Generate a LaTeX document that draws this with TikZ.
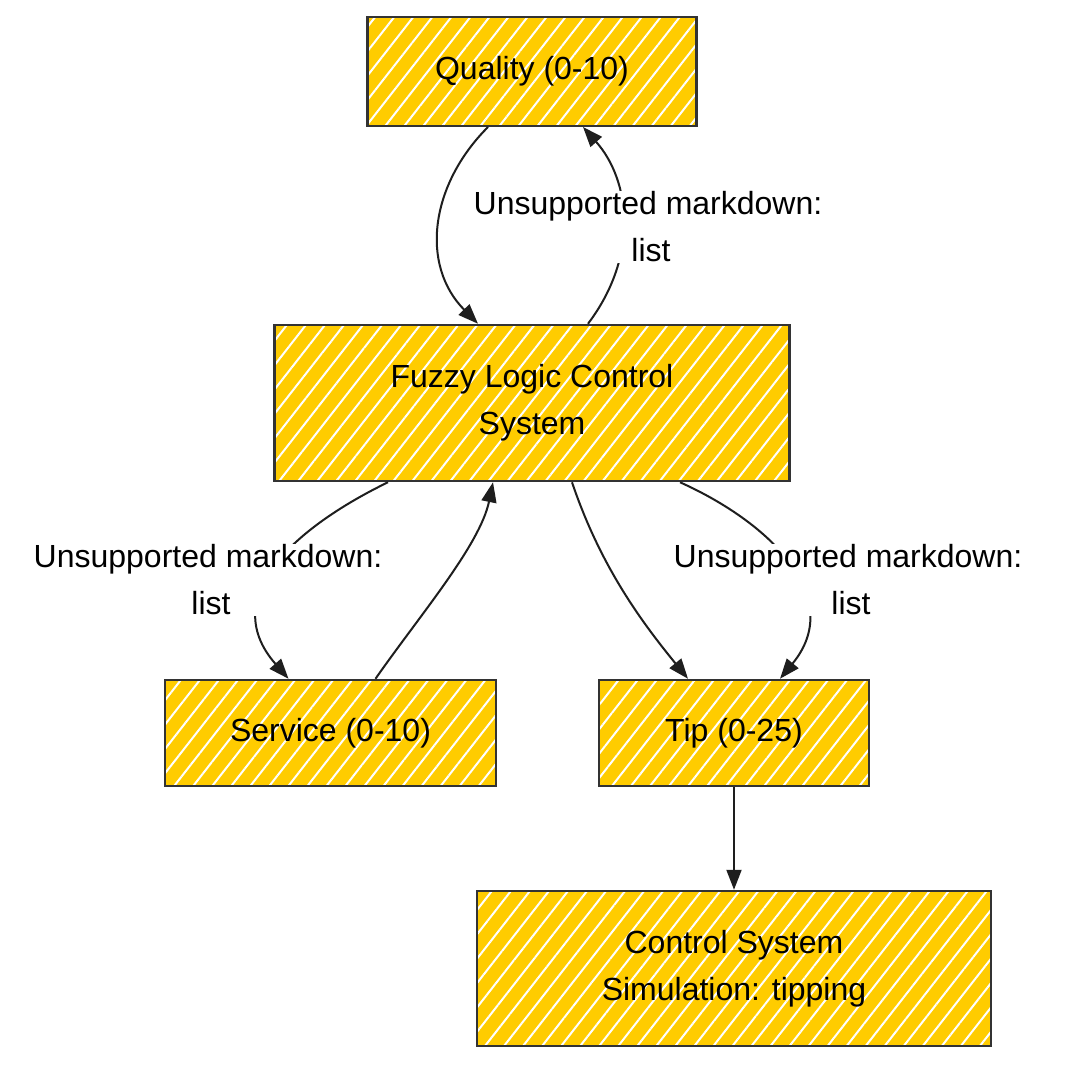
\documentclass[tikz,border=0pt]{standalone}
\usepackage{fontspec}
\setmainfont{Liberation Sans}
\usetikzlibrary{arrows.meta,calc,patterns.meta}
\definecolor{boxfill}{RGB}{255,204,0}
\definecolor{boxline}{RGB}{51,51,51}
\definecolor{ink}{RGB}{30,30,30}
\begin{document}
\begin{tikzpicture}[x=1pt,y=-1pt,
  box/.style={draw=boxline,line width=2.5pt,preaction={fill=boxfill},
    pattern={Lines[angle=52,distance=15pt,line width=2pt]},pattern color=white,
    align=center,font=\fontsize{32}{47}\selectfont,text=black,inner sep=0pt},
  conn/.style={draw=ink,line width=2pt,-{Triangle[length=20pt,width=15pt]}},
  lbl/.style={fill=white,align=center,font=\fontsize{32}{47}\selectfont,text=black,inner sep=1pt}]
\useasboundingbox[fill=white] (0,0) rectangle (1082,1082);
\node[box,minimum width=329pt,minimum height=109pt] (q) at (532,71.5) {\raisebox{-5pt}{Quality (0-10)}};
\node[box,minimum width=515pt,minimum height=156pt] (f) at (532,403) {\raisebox{-4pt}{Fuzzy Logic Control}\\\raisebox{-4pt}{System}};
\node[box,minimum width=331pt,minimum height=106pt] (s) at (330.5,733) {\raisebox{-3pt}{Service (0-10)}};
\node[box,minimum width=270pt,minimum height=106pt] (t) at (734,733) {\raisebox{-3pt}{Tip (0-25)}};
\node[box,minimum width=514pt,minimum height=155pt] (c) at (734,968.5) {\raisebox{-4pt}{Control System}\\\raisebox{-4pt}{Simulation: tipping}};
% connectors
\draw[conn] ($(q.south)+(-44,0)$) .. controls (430,185) and (420,265) .. ($(f.north)+(-54,0)$);
\draw[conn] ($(f.north)+(56,0)$) .. controls (640,255) and (630,180) .. ($(q.south)+(51,0)$);
\draw[conn] ($(f.south)+(-144,0)$) .. controls (300,525) and (215,595) .. ($(s.north)+(-42,0)$);
\draw[conn] ($(s.north)+(45,0)$) .. controls (420,615) and (480,545) .. ($(f.south)+(-39,0)$);
\draw[conn] ($(f.south)+(40,0)$) .. controls (600,565) and (640,620) .. ($(t.north)+(-46,0)$);
\draw[conn] ($(f.south)+(148,0)$) .. controls (775,525) and (845,600) .. ($(t.north)+(46,0)$);
\draw[conn] (t.south) -- (c.north);
% labels
\node[lbl] (l1) at (648,227) {Unsupported markdown:\\\hspace*{6pt}list};
\node[lbl] (l2) at (208,580) {Unsupported markdown:\\\hspace*{6pt}list};
\node[lbl] (l3) at (848,580) {Unsupported markdown:\\\hspace*{6pt}list};
\end{tikzpicture}
\end{document}
